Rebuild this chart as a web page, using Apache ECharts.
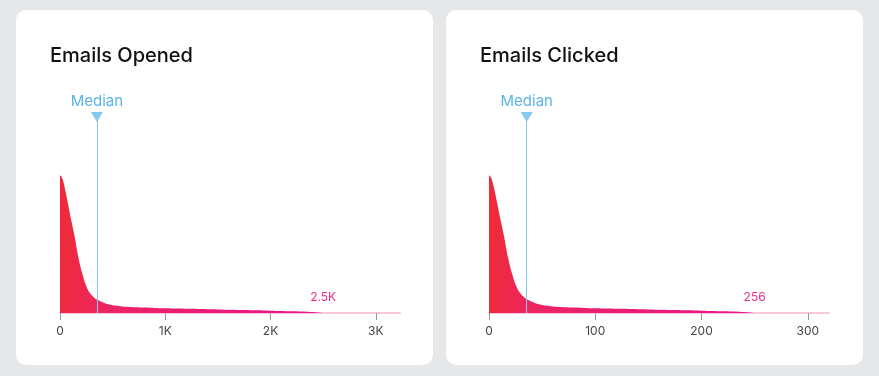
<!DOCTYPE html>
<html>
<head>
<meta charset="utf-8">
<script src="https://cdn.jsdelivr.net/npm/echarts@6/dist/echarts.min.js"></script>
<style>
  html, body { margin: 0; padding: 0; }
  body { width: 879px; height: 376px; background: #e6e7e9; position: relative; overflow: hidden; }
  .card { position: absolute; top: 10px; width: 417px; height: 355px; background: #fff; border-radius: 10px; }
  #openedCard { left: 16px; }
  #clickedCard { left: 446px; }
</style>
</head>
<body>
<div class="card" id="openedCard"></div>
<div class="card" id="clickedCard"></div>
<script>
  // distribution of emails opened (x = count, y = relative density, peak = 100)
  var openedX = [0, 14, 28, 50, 76, 107, 140, 174, 212, 253, 301, 364, 459, 570, 665, 800, 1000, 1250, 1500, 1750, 2000, 2200, 2350, 2450, 2500];
  var openedDensity = [100, 99, 96.4, 89.1, 79.4, 67.3, 55.2, 40.7, 28.6, 18.9, 12.9, 9.2, 6.3, 4.9, 4.4, 4.0, 3.4, 3.0, 2.5, 2.1, 1.7, 1.3, 0.9, 0.4, 0];
  var openedTicks = ['0', '1K', '2K', '3K'];
  var openedMedian = 351;
  var openedMax = 2500;
  var openedMaxLabel = '2.5K';

  // distribution of emails clicked
  var clickedX = [0, 1.4, 2.9, 5.2, 7.8, 11, 14.3, 17.8, 21.7, 26, 31, 37.5, 47, 58, 67, 80, 100, 125, 150, 175, 200, 220, 235, 245, 250];
  var clickedDensity = [100, 99, 96.4, 89.1, 79.4, 67.3, 55.2, 40.7, 28.6, 18.9, 12.9, 9.2, 6.3, 4.9, 4.4, 4.0, 3.4, 3.0, 2.5, 2.1, 1.7, 1.3, 0.9, 0.4, 0];
  var clickedTicks = ['0', '100', '200', '300'];
  var clickedMedian = 35.5;
  var clickedMax = 250;
  var clickedMaxLabel = '256';

  var FONT = 'Inter, "Noto Sans", sans-serif';
  var Y_TOP = 142.3; // room above the peak for the median marker

  function zip(xs, ys) {
    return xs.map(function (x, i) { return [x, ys[i]]; });
  }

  function buildOption(cfg) {
    return {
      animation: false,
      textStyle: { fontFamily: FONT },
      title: {
        text: cfg.title,
        left: 29,
        top: 31,
        textStyle: { fontFamily: FONT, fontSize: 20, fontWeight: 500, color: '#111' }
      },
      grid: { left: cfg.left, right: cfg.right, top: 107, bottom: 52 },
      xAxis: {
        type: 'value',
        min: 0,
        max: cfg.axisMax,
        interval: cfg.interval,
        splitLine: { show: false },
        axisLine: { show: true, lineStyle: { color: '#f9c8dd', width: 2 } },
        axisTick: { show: true, length: 7, lineStyle: { color: '#999' } },
        axisLabel: {
          margin: 12,
          fontSize: 12,
          color: '#444',
          fontFamily: FONT,
          showMaxLabel: false,
          formatter: function (v) { return cfg.ticks[Math.round(v / cfg.interval)] || ''; }
        }
      },
      yAxis: { type: 'value', min: 0, max: Y_TOP, show: false },
      series: [{
        type: 'line',
        data: zip(cfg.x, cfg.y),
        smooth: 0.4,
        showSymbol: false,
        lineStyle: { width: 0 },
        areaStyle: {
          opacity: 1,
          color: new echarts.graphic.LinearGradient(0, 0, 1, 0.3, [
            { offset: 0, color: '#ef2a38' },
            { offset: 0.08, color: '#ee2a40' },
            { offset: 0.25, color: '#ec2462' },
            { offset: 0.6, color: '#ea1c78' },
            { offset: 1, color: '#e6168c' }
          ])
        },
        markLine: {
          silent: true,
          symbol: ['none', 'triangle'],
          symbolSize: [12, 10],
          symbolRotate: 180,
          lineStyle: { color: '#86c8f0', width: 1, type: 'solid' },
          label: {
            show: true,
            position: 'end',
            distance: 8,
            formatter: 'Median',
            color: '#5ab3e8',
            fontSize: 15,
            fontFamily: FONT
          },
          data: [[
            { coord: [cfg.median, 0] },
            { coord: [cfg.median, Y_TOP], itemStyle: { color: '#4fa9e2' }, symbolRotate: 180 }
          ]]
        },
        markPoint: {
          silent: true,
          symbol: 'circle',
          symbolSize: 0,
          label: {
            show: true,
            position: 'top',
            distance: 10,
            formatter: cfg.maxLabel,
            color: '#ec2a8c',
            fontSize: 12,
            fontFamily: FONT
          },
          data: [{ coord: [cfg.maxValue, 0] }]
        }
      }]
    };
  }

  var openedChart = echarts.init(document.getElementById('openedCard'));
  openedChart.setOption(buildOption({
    title: 'Emails Opened',
    left: 44, right: 33,
    axisMax: 3230, interval: 1000,
    ticks: openedTicks,
    x: openedX, y: openedDensity,
    median: openedMedian,
    maxValue: openedMax, maxLabel: openedMaxLabel
  }));

  var clickedChart = echarts.init(document.getElementById('clickedCard'));
  clickedChart.setOption(buildOption({
    title: 'Emails Clicked',
    left: 43, right: 34,
    axisMax: 320, interval: 100,
    ticks: clickedTicks,
    x: clickedX, y: clickedDensity,
    median: clickedMedian,
    maxValue: clickedMax, maxLabel: clickedMaxLabel
  }));
</script>
</body>
</html>
